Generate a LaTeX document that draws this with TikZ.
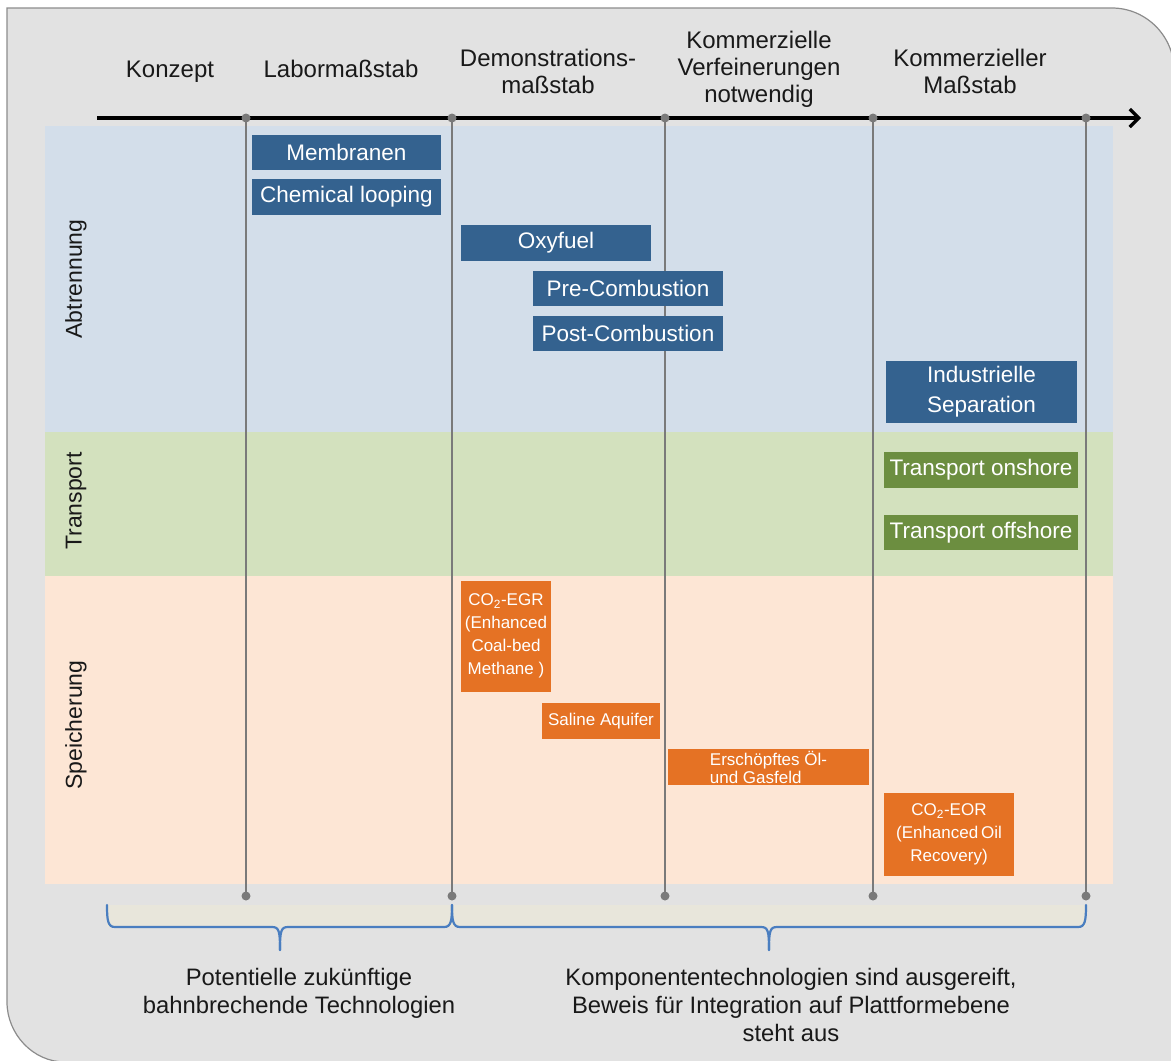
\documentclass[tikz,border=0pt]{standalone}
\usepackage{fontspec}
\setmainfont{Liberation Sans}
\usetikzlibrary{arrows.meta}
\definecolor{FrameGray}{RGB}{226,226,226}
\definecolor{FrameLine}{RGB}{140,140,140}
\definecolor{BandBlue}{RGB}{211,222,234}
\definecolor{BandGreen}{RGB}{211,225,190}
\definecolor{BandPeach}{RGB}{253,230,213}
\definecolor{BoxBlue}{RGB}{52,98,143}
\definecolor{BoxGreen}{RGB}{108,142,64}
\definecolor{BoxOrange}{RGB}{229,114,36}
\definecolor{RuleGray}{RGB}{122,122,122}
\definecolor{BraceBlue}{RGB}{74,126,192}
\definecolor{BraceFill}{RGB}{232,230,219}
\tikzset{
  stage/.style={anchor=base,align=center,inner sep=0pt,font=\fontsize{24}{27}\selectfont,text=black!90},
  rowlabel/.style={rotate=90,font=\fontsize{23}{26}\selectfont,text=black!90},
  dot/.style={circle,fill=RuleGray,inner sep=0pt,minimum size=9pt},
  stagerule/.style={draw=RuleGray,line width=2.4pt},
  timeaxis/.style={-{Straight Barb[length=9pt,width=18pt]},line width=3.2pt,draw=black},
  tech/.style={inner sep=0pt,align=center,text=white,font=\fontsize{22.5}{30}\selectfont},
  capt/.style={tech,fill=BoxBlue},
  trans/.style={tech,fill=BoxGreen},
  store/.style={tech,fill=BoxOrange,font=\fontsize{17}{23}\selectfont},
  brace/.style={draw=BraceBlue,line width=2.2pt,line cap=round},
  bracelabel/.style={anchor=base,align=center,inner sep=0pt,font=\fontsize{23.8}{28}\selectfont,text=black!90}
}
\begin{document}
\begin{tikzpicture}[x=1pt,y=-1pt]
\useasboundingbox (0,0) rectangle (1171,1061);
% frame
\draw[fill=FrameGray,draw=FrameLine,line width=1.2pt]
  (7,8) -- (1112,8) .. controls (1146,8) and (1174,36) .. (1174,70) -- (1174,1062)
  -- (65,1062) .. controls (33,1062) and (7,1034) .. (7,1002) -- cycle;
% bands
\fill[BandBlue] (45,126) rectangle (1113,432);
\fill[BandGreen] (45,432) rectangle (1113,576);
\fill[BandPeach] (45,576) rectangle (1113,884);
\fill[BraceFill] (107,905) rectangle (1086,927);

\node[rowlabel] (abt) at (76,279) {Abtrennung};
\node[rowlabel] (trp) at (76,501) {Transport};
\node[rowlabel] (spe) at (76,725) {Speicherung};

% time axis and stage rules
\coordinate (ax0) at (97,118);
\coordinate (ax1) at (1141,118);
\draw[timeaxis] (ax0) -- (ax1);

\coordinate (t1) at (246,118);
\coordinate (t2) at (452,118);
\coordinate (t3) at (665,118);
\coordinate (t4) at (873,118);
\coordinate (t5) at (1086,118);
\coordinate (b1) at (246,896);
\coordinate (b2) at (452,896);
\coordinate (b3) at (665,896);
\coordinate (b4) at (873,896);
\coordinate (b5) at (1086,896);

\draw[stagerule](t1)--(b1);\draw[stagerule](t2)--(b2);\draw[stagerule](t3)--(b3);\draw[stagerule](t4)--(b4);\draw[stagerule](t5)--(b5);
\node[dot] at (t1) {};\node[dot] at (t2) {};\node[dot] at (t3) {};\node[dot] at (t4) {};\node[dot] at (t5) {};
\node[dot] at (b1) {};\node[dot] at (b2) {};\node[dot] at (b3) {};\node[dot] at (b4) {};\node[dot] at (b5) {};

% stage names (base = last line)
\node[stage] (konzept) at (170,77) {Konzept};
\node[stage] (labor) at (341,77) {Labormaßstab};
\node[stage] (demo) at (548,93) {Demonstrations-\\maßstab};
\node[stage] (verf) at (759,102) {Kommerzielle\\Verfeinerungen\\notwendig};
\node[stage] (komm) at (970,93) {Kommerzieller\\Maßstab};

% technologies
\node[capt,minimum width=189pt,minimum height=35pt] (membr) at (346.5,152.5) {Membranen};
\node[capt,minimum width=189pt,minimum height=36pt] (chem) at (346.5,197) {Chemical looping};
\node[capt,minimum width=190pt,minimum height=36pt] (oxy) at (556,243) {Oxyfuel};
\node[capt,minimum width=190pt,minimum height=35pt] (pre) at (628,288.5) {Pre-Combustion};
\node[capt,minimum width=190pt,minimum height=35pt] (post) at (628,333.5) {Post-Combustion};
\node[capt,minimum width=191pt,minimum height=62pt] (indus) at (981.5,392) {Industrielle\\Separation};
\node[trans,minimum width=194pt,minimum height=36pt] (onsh) at (981,470) {Transport onshore};
\node[trans,minimum width=194pt,minimum height=35pt] (offsh) at (981,532.5) {Transport offshore};
\node[store,minimum width=90pt,minimum height=111pt] (egr) at (506,636) {CO\textsubscript{2}-EGR\\(Enhanced\\Coal-bed\\Methane )};
\node[store,minimum width=118pt,minimum height=36pt] (aqui) at (601,721) {Saline Aquifer};
\node[store,minimum width=201pt,minimum height=36pt,align=left,font=\fontsize{17}{18}\selectfont] (gas) at (768.5,767) {Erschöpftes Öl-\\und Gasfeld\hspace*{8pt}};
\node[store,minimum width=130pt,minimum height=83pt] (eor) at (949,834.5) {CO\textsubscript{2}-EOR\\(Enhanced\,Oil\\Recovery)};

% braces
\draw[brace] (107,905) .. controls (107,921) and (108,927) .. (115,927) -- (272,927) .. controls (279,927) and (280,931) .. (280,950);
\draw[brace] (280,950) .. controls (280,931) and (281,927) .. (288,927) -- (444,927) .. controls (451,927) and (452,921) .. (452,905);
\draw[brace] (452,905) .. controls (452,921) and (453,927) .. (460,927) -- (761,927) .. controls (768,927) and (769,931) .. (769,950);
\draw[brace] (769,950) .. controls (769,931) and (770,927) .. (777,927) -- (1078,927) .. controls (1085,927) and (1086,921) .. (1086,905);

\node[bracelabel] (future) at (299,1013) {Potentielle zukünftige\\bahnbrechende Technologien};
\node[bracelabel] (mature) at (791,1041) {Komponententechnologien sind ausgereift,\\Beweis für Integration auf Plattformebene\\steht aus};
\end{tikzpicture}
\end{document}
